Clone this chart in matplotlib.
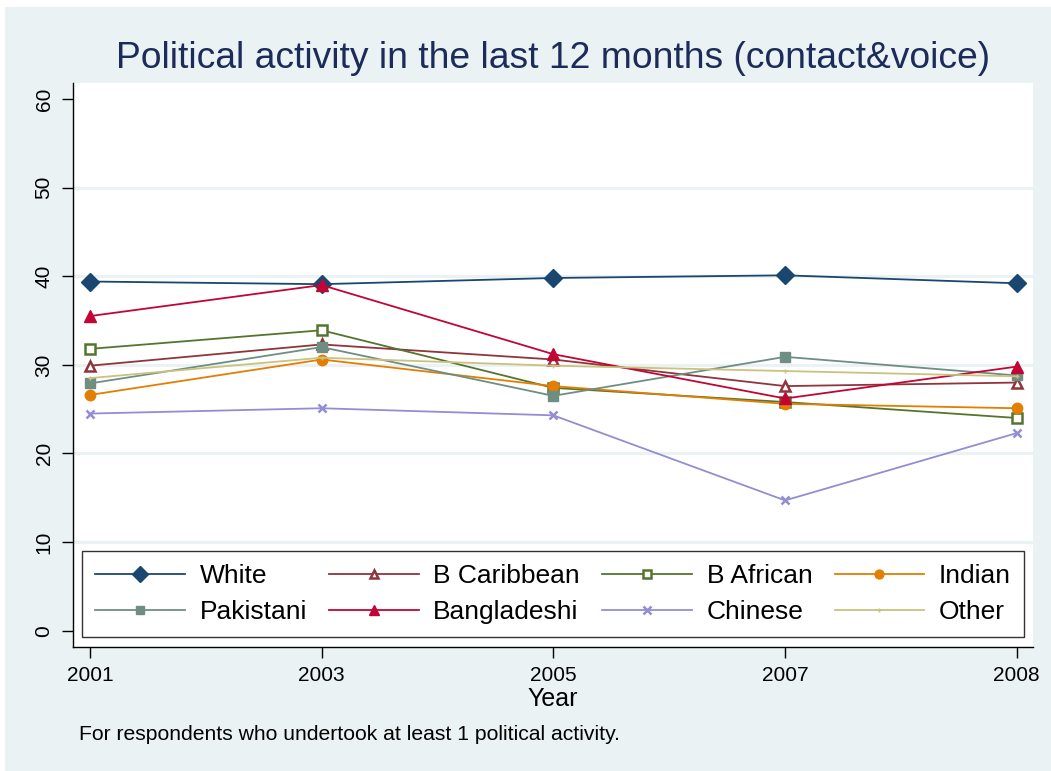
import matplotlib
matplotlib.use('Agg')
import matplotlib.pyplot as plt
from matplotlib.patches import Rectangle

plt.rcParams['font.family'] = ['Liberation Sans', 'DejaVu Sans']

years = ['2001', '2003', '2005', '2007', '2008']
white = [39.4, 39.1, 39.8, 40.1, 39.2]
b_caribbean = [29.9, 32.3, 30.6, 27.6, 28.0]
b_african = [31.8, 33.9, 27.4, 25.8, 24.0]
indian = [26.6, 30.6, 27.6, 25.6, 25.1]
pakistani = [27.9, 32.0, 26.5, 30.9, 28.8]
bangladeshi = [35.5, 39.0, 31.2, 26.2, 29.8]
chinese = [24.5, 25.1, 24.3, 14.7, 22.3]
other = [28.5, 30.8, 29.9, 29.3, 28.7]

y_ticks = [0, 10, 20, 30, 40, 50, 60]

BG = '#eaf2f3'
W, H = 1051, 771

fig = plt.figure(figsize=(W / 100, H / 100), dpi=100, facecolor='white')
# stata-like graph region
fig.patches.append(Rectangle((5 / W, 0), 1 - 5 / W, 1 - 7 / H, transform=fig.transFigure,
                             facecolor=BG, edgecolor='none', zorder=-10))

ax = fig.add_axes([73 / W, 1 - 647 / H, (1033 - 73) / W, (647 - 83) / H])
ax.set_facecolor('white')

x = list(range(len(years)))

# label, values, color, marker, size, filled
series = [
    ('White', white, '#1a476f', 'D', 9.5, True),
    ('B Caribbean', b_caribbean, '#90353b', '^', 7.5, False),
    ('B African', b_african, '#55752f', 's', 6.5, False),
    ('Indian', indian, '#e37e00', 'o', 7.5, True),
    ('Pakistani', pakistani, '#6e8e84', 's', 7.5, True),
    ('Bangladeshi', bangladeshi, '#c10534', '^', 9.0, True),
    ('Chinese', chinese, '#938dd2', 'x', 6.0, True),
    ('Other', other, '#cac27e', '+', 3.5, True),
]

lines = []
for i, (lab, vals, col, mk, ms, filled) in enumerate(series):
    mew = 1.8 if (not filled or mk == 'x') else 1.0
    ln, = ax.plot(x, vals, color=col, lw=1.3, marker=mk, markersize=ms,
                  markerfacecolor=col if filled else 'white',
                  markeredgecolor=col, markeredgewidth=mew,
                  label=lab, zorder=3 + i)
    lines.append(ln)

ax.set_xlim(-0.073, 4.07)
ax.set_ylim(-1.84, 61.8)
ax.set_xticks(x)
ax.set_xticklabels(years, fontsize=15)
ax.set_yticks(y_ticks)
ax.set_yticklabels([str(v) for v in y_ticks], fontsize=15, rotation=90, va='center')

for v in [10, 20, 30, 40, 50]:
    ax.axhline(v, color=BG, lw=2.2, zorder=1)

for s in ['top', 'right']:
    ax.spines[s].set_visible(False)
ax.spines['left'].set_linewidth(1.0)
ax.spines['bottom'].set_linewidth(1.0)
ax.tick_params(axis='both', direction='out', length=8, width=1.0, pad=6)

ax.set_xlabel('Year', fontsize=18, labelpad=1)

fig.text(553 / W, 1 - 58 / H, 'Political activity in the last 12 months (contact&voice)',
         ha='center', va='center', fontsize=26.8, color='#1c2b5a')

fig.text(79 / W, 1 - 734 / H, 'For respondents who undertook at least 1 political activity.',
         ha='left', va='center', fontsize=15.2, color='black')

# legend fills column by column, so reorder to read row by row
order = [0, 4, 1, 5, 2, 6, 3, 7]
leg = fig.legend([lines[k] for k in order], [series[k][0] for k in order],
                 loc='lower left', ncol=4, mode='expand',
                 bbox_to_anchor=(82 / W, 1 - 637 / H, (1024 - 82) / W, (637 - 552) / H),
                 borderaxespad=0, fontsize=19, handlelength=3.4, handletextpad=0.55,
                 borderpad=0.5, labelspacing=0.45, columnspacing=0.6,
                 fancybox=False, markerscale=0.85)
leg.get_frame().set_edgecolor('black')
leg.get_frame().set_linewidth(1.0)

fig.savefig('out.png', dpi=100, facecolor=fig.get_facecolor())
